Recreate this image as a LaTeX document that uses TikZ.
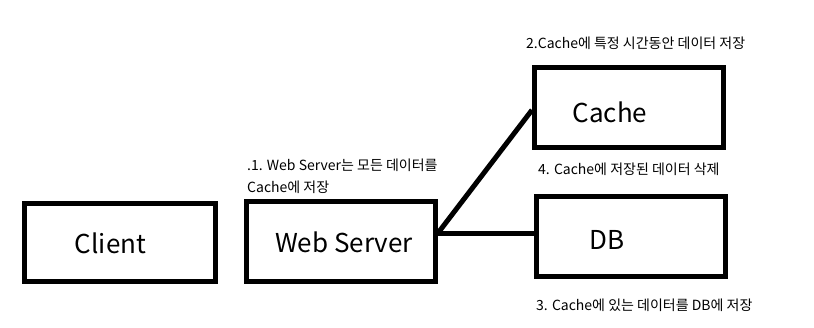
\documentclass[tikz,border=0pt]{standalone}
\usepackage{fontspec}
\setmainfont{Noto Sans CJK KR}
\usetikzlibrary{calc}
\tikzset{
  kasten/.style={draw=black,line width=5pt,minimum width=189pt,minimum height=80pt,inner sep=0pt},
  titel/.style={font=\fontsize{26}{30}\selectfont,inner sep=0pt},
  notiz/.style={font=\fontsize{14}{17}\selectfont,inner sep=0pt,anchor=west},
  verb/.style={black,line width=5pt},
}
\begin{document}
\begin{tikzpicture}[x=1pt,y=-1pt]
  \useasboundingbox (0,0) rectangle (814,327);
  \node[kasten,minimum width=191pt,minimum height=78pt] (client) at (120,242.5) {};
  \node[kasten] (ws) at (341,241.5) {};
  \node[kasten] (cache) at (629,107.5) {};
  \node[kasten] (db) at (631,236.5) {};
  \node[titel] (clientt) at (110.5,243) {Client};
  \node[titel] (wst) at (344,242) {Web Server};
  \node[titel] (cachet) at (610,112) {Cache};
  \node[titel] (dbt) at (607,240) {DB};
  \coordinate (wsout) at ([yshift=8.5pt]ws.east);
  \coordinate (cachein) at ([yshift=-2.5pt]cache.west);
  \coordinate (dbin) at ([yshift=3.5pt]db.west);
  \draw[verb] (wsout) -- (cachein);
  \draw[verb] (wsout) -- (dbin);
  \node[notiz] (n1a) at (247,165) {.1. Web Server는 모든 데이터를};
  \node[notiz] (n1b) at (247,187) {Cache에 저장};
  \node[notiz] (n2) at (526,43) {2.Cache에 특정 시간동안 데이터 저장};
  \node[notiz] (n4) at (538,169) {4. Cache에 저장된 데이터 삭제};
  \node[notiz] (n3) at (536,305) {3. Cache에 있는 데이터를 DB에 저장};
\end{tikzpicture}
\end{document}
